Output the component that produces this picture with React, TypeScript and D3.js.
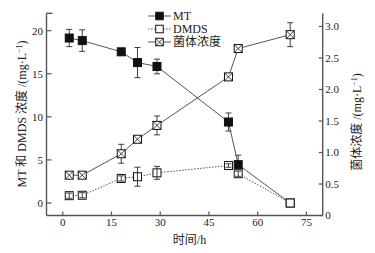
import React from "react";
import * as d3 from "d3";

const times = [2, 6, 18, 23, 29, 51, 54, 70];
const mtValues = [19.15, 18.85, 17.55, 16.3, 15.85, 9.4, 4.45, 0];
const mtErrors = [1.0, 1.25, 0.3, 1.75, 0.85, 1.05, 1.1, 0];
const dmdsValues = [0.85, 0.9, 2.85, 3.05, 3.5, 4.35, 3.4, 0];
const dmdsErrors = [0.3, 0.3, 0.3, 1.1, 0.75, 0.2, 0.3, 0];
const bioValues = [0.64, 0.64, 0.98, 1.21, 1.43, 2.2, 2.65, 2.87];
const bioErrors = [0.02, 0.02, 0.15, 0.03, 0.15, 0.03, 0.03, 0.19];

const xTicks = [0, 15, 30, 45, 60, 75];
const leftTicks = [0, 5, 10, 15, 20];
const rightTicks = [0, 0.5, 1.0, 1.5, 2.0, 2.5, 3.0];
const legendLabels = ["MT", "DMDS", "菌体浓度"];

const FONT = "'Liberation Serif', 'Times New Roman', 'Noto Sans CJK SC', serif";
const INK = "#2a2a2a";
const AXIS = "#555";

export default function App() {
  const x = d3.scaleLinear().domain([-5, 80]).range([46.5, 322.7]);
  const yL = d3.scaleLinear().domain([0, 20]).range([203, 30.7]);
  const yR = d3.scaleLinear().domain([0, 3]).range([215.5, 26.5]);
  const top = 13.3;
  const bottom = 215.5;
  const left = x.range()[0];
  const right = x.range()[1];
  const ms = 8;

  const line = (ys: number[], sc: d3.ScaleLinear<number, number>) =>
    d3.line<number>().x((_, i) => x(times[i])).y((v) => sc(v))(ys) as string;

  const errBars = (vals: number[], errs: number[], sc: d3.ScaleLinear<number, number>, key: string) =>
    vals.map((v, i) => {
      if (errs[i] <= 0) return null;
      const cx = x(times[i]);
      const y1 = sc(v + errs[i]);
      const y2 = sc(v - errs[i]);
      return (
        <g key={key + i} stroke={INK} strokeWidth={0.9}>
          <line x1={cx} x2={cx} y1={y1} y2={y2} />
          <line x1={cx - 3} x2={cx + 3} y1={y1} y2={y1} />
          <line x1={cx - 3} x2={cx + 3} y1={y2} y2={y2} />
        </g>
      );
    });

  const square = (cx: number, cy: number, s: number, filled: boolean, cross: boolean, key: string) => (
    <g key={key}>
      <rect x={cx - s / 2} y={cy - s / 2} width={s} height={s} fill={filled ? "#111" : "#fff"} stroke="#111" strokeWidth={1} />
      {cross && (
        <g stroke="#111" strokeWidth={0.8}>
          <line x1={cx - s / 2} y1={cy - s / 2} x2={cx + s / 2} y2={cy + s / 2} />
          <line x1={cx - s / 2} y1={cy + s / 2} x2={cx + s / 2} y2={cy - s / 2} />
        </g>
      )}
    </g>
  );

  const legendY = [16, 29, 42];
  const legendStyles = [
    { filled: true, cross: false, dash: undefined as string | undefined },
    { filled: false, cross: false, dash: "1.5,1.5" },
    { filled: false, cross: true, dash: undefined as string | undefined },
  ];

  return (
    <svg width={375} height={253} style={{ position: "absolute", left: 0, top: 0, background: "#fff" }} fontFamily={FONT}>
      <rect width={375} height={253} fill="#fff" />
      {/* axes */}
      <g stroke={AXIS} strokeWidth={1.4} fill="none">
        <line x1={left} x2={left} y1={top} y2={bottom} />
        <line x1={right} x2={right} y1={top} y2={bottom} />
        <line x1={left} x2={right} y1={bottom} y2={bottom} />
        <line x1={left} x2={left + 6} y1={top} y2={top} />
      </g>
      {leftTicks.map((t) => (
        <g key={"l" + t}>
          <line x1={left} x2={left + 5} y1={yL(t)} y2={yL(t)} stroke={AXIS} strokeWidth={1.2} />
          <text x={left - 3.5} y={yL(t)} dy="0.35em" textAnchor="end" fontSize={11} fill="#222">{t}</text>
        </g>
      ))}
      {rightTicks.map((t) => (
        <g key={"r" + t}>
          <line x1={right - 4} x2={right} y1={yR(t)} y2={yR(t)} stroke={AXIS} strokeWidth={1.2} />
          <text x={right + 2.5} y={yR(t)} dy="0.35em" textAnchor="start" fontSize={11} fill="#222">
            {t === 0 ? "0" : t.toFixed(1)}
          </text>
        </g>
      ))}
      {xTicks.map((t) => (
        <g key={"x" + t}>
          <line x1={x(t)} x2={x(t)} y1={bottom} y2={bottom - 4} stroke={AXIS} strokeWidth={1.2} />
          <text x={x(t)} y={226} textAnchor="middle" fontSize={11} fill="#222">{t}</text>
        </g>
      ))}
      {/* axis titles */}
      <text transform="translate(25.5,114) rotate(-90)" textAnchor="middle" fontSize={12} fill="#222">
        MT 和 DMDS 浓度 /(mg·L<tspan dy={-4} fontSize={8}>−1</tspan><tspan dy={4}>)</tspan>
      </text>
      <text transform="translate(360.5,122) rotate(-90)" textAnchor="middle" fontSize={12} fill="#222">
        菌体浓度 /(mg·L<tspan dy={-4} fontSize={8}>−1</tspan><tspan dy={4}>)</tspan>
      </text>
      <text x={189.5} y={244} textAnchor="middle" fontSize={12} fill="#222">时间/h</text>

      {/* lines */}
      <path d={line(mtValues, yL)} fill="none" stroke={INK} strokeWidth={0.8} />
      <path d={line(dmdsValues, yL)} fill="none" stroke={INK} strokeWidth={0.8} strokeDasharray="1.5,1.5" />
      <path d={line(bioValues, yR)} fill="none" stroke={INK} strokeWidth={0.8} />

      {/* error bars under markers */}
      {errBars(mtValues, mtErrors, yL, "me")}
      {errBars(bioValues, bioErrors, yR, "be")}

      {/* markers */}
      {mtValues.map((v, i) => square(x(times[i]), yL(v), ms, true, false, "m" + i))}
      {bioValues.map((v, i) => square(x(times[i]), yR(v), ms, false, true, "b" + i))}
      {dmdsValues.map((v, i) => square(x(times[i]), yL(v), ms, false, false, "d" + i))}
      {errBars(dmdsValues, dmdsErrors, yL, "de")}

      {/* legend */}
      {legendLabels.map((lab, i) => (
        <g key={"lg" + i}>
          <line x1={148} x2={171} y1={legendY[i]} y2={legendY[i]} stroke={INK} strokeWidth={0.8} strokeDasharray={legendStyles[i].dash} />
          {square(159.5, legendY[i], 7.5, legendStyles[i].filled, legendStyles[i].cross, "ls" + i)}
          <text x={173} y={legendY[i]} dy="0.36em" fontSize={12} fill="#222">{lab}</text>
        </g>
      ))}
    </svg>
  );
}
